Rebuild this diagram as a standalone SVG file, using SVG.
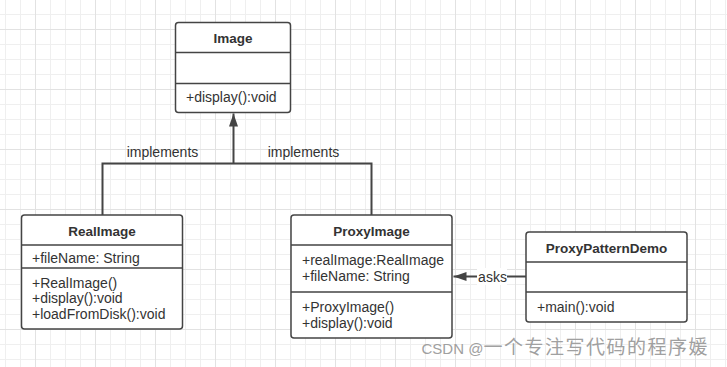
<svg xmlns="http://www.w3.org/2000/svg" width="727" height="367" viewBox="0 0 727 367">
<style>
.box{fill:#fff;stroke:#444;stroke-width:1.5}
.div{stroke:#444;stroke-width:1.5;fill:none}
.t{font-family:"Liberation Sans",Arial,sans-serif;font-size:14px;fill:#333}
.b{font-weight:bold;text-anchor:middle;font-size:13.5px}
.edge{stroke:#444;stroke-width:2;fill:none}
.lbl{font-family:"Liberation Sans",Arial,sans-serif;font-size:14px;fill:#333;text-anchor:middle}
</style>
<defs>
<pattern id="grid" patternUnits="userSpaceOnUse" x="35" y="29" width="60" height="60">
<rect width="60" height="60" fill="#fff"/>
<g fill="#efefef">
<rect x="15" y="0" width="1" height="60"/><rect x="30" y="0" width="1" height="60"/><rect x="45" y="0" width="1" height="60"/>
<rect x="0" y="15" width="60" height="1"/><rect x="0" y="30" width="60" height="1"/><rect x="0" y="45" width="60" height="1"/>
</g>
<g fill="#e2e2e2"><rect x="0" y="0" width="1" height="60"/><rect x="0" y="0" width="60" height="1"/></g>
</pattern>
<marker id="arr" markerUnits="userSpaceOnUse" markerWidth="14" markerHeight="10" refX="13" refY="5" orient="auto">
<path d="M0,0.5 L13,5 L0,9.5 z" fill="#444"/>
</marker>
</defs>
<rect width="727" height="367" fill="url(#grid)"/>

<g id="connectors">
<path class="edge" d="M102.5,215 V163.5 H371.5 V215"/>
<line class="edge" x1="233.5" y1="163.5" x2="233.5" y2="113.5" marker-end="url(#arr)"/>
<text class="lbl" x="162.5" y="156.5">implements</text>
<text class="lbl" x="303.5" y="156.5">implements</text>
<line class="edge" x1="526" y1="276.5" x2="453.5" y2="276.5" marker-end="url(#arr)"/>
<rect x="477" y="268" width="30" height="17" fill="#fff"/>
<text class="lbl" x="492.5" y="282">asks</text>
</g>

<g id="Image">
<rect class="box" x="175.5" y="22.5" width="115" height="90" rx="3"/>
<path class="div" d="M175.5,52.5 H290.5 M175.5,83.5 H290.5"/>
<text class="t b" x="233" y="42.5">Image</text>
<text class="t" x="186" y="101.5">+display():void</text>
</g>

<g id="RealImage">
<rect class="box" x="21.5" y="215" width="161" height="114" rx="3"/>
<path class="div" d="M21.5,245 H182.5 M21.5,268 H182.5"/>
<text class="t b" x="102" y="235.5">RealImage</text>
<text class="t" x="32" y="262.5">+fileName: String</text>
<text class="t" x="32" y="287.5">+RealImage()</text>
<text class="t" x="32" y="303">+display():void</text>
<text class="t" x="32" y="319">+loadFromDisk():void</text>
</g>

<g id="ProxyImage">
<rect class="box" x="291" y="215" width="161" height="123" rx="3"/>
<path class="div" d="M291,245 H452 M291,292 H452"/>
<text class="t b" x="371.5" y="235.5">ProxyImage</text>
<text class="t" x="302" y="265">+realImage:RealImage</text>
<text class="t" x="302" y="281">+fileName: String</text>
<text class="t" x="302" y="311.5">+ProxyImage()</text>
<text class="t" x="302" y="327.5">+display():void</text>
</g>

<g id="ProxyPatternDemo">
<rect class="box" x="526" y="232" width="161" height="90" rx="3"/>
<path class="div" d="M526,262 H687 M526,292 H687"/>
<text class="t b" x="606.5" y="252.5">ProxyPatternDemo</text>
<text class="t" x="537" y="311.5">+main():void</text>
</g>

<text x="421.5" y="353.5" fill="#a0a0a0" font-family="Liberation Sans,'Noto Sans CJK SC',sans-serif" font-size="15">CSDN @<tspan font-family="'Noto Sans CJK SC',sans-serif" font-size="19" letter-spacing="1.5">一个专注写代码的程序媛</tspan></text>
</svg>
